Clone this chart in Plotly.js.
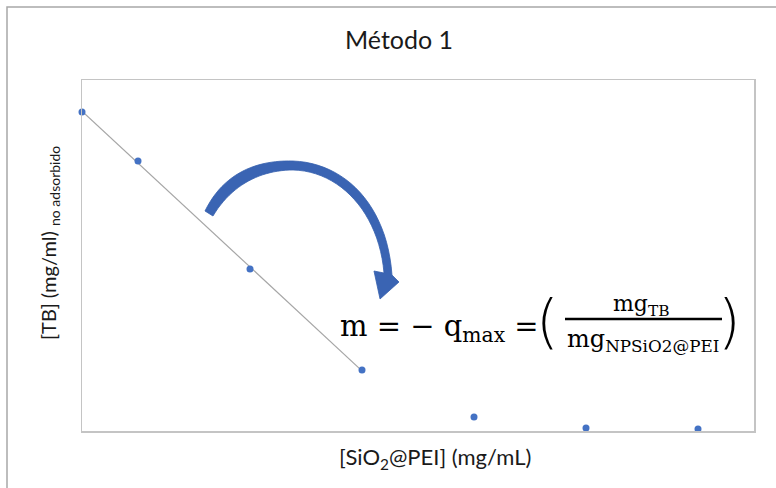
<!DOCTYPE html>
<html>
<head>
<meta charset="utf-8">
<script src="https://cdn.plot.ly/plotly-3.0.1.min.js"></script>
<style>html,body{margin:0;padding:0;background:#fff;}#chart{width:776px;height:488px;}</style>
</head>
<body>
<div id="chart"></div>
<script>
// Data (arbitrary units; the chart has no tick labels)
const sio2Conc = [0, 0.5, 1.5, 2.5, 3.5, 4.5, 5.5];
const tbNoAdsorbido = [3.181, 2.692, 1.615, 0.608, 0.140, 0.030, 0.020];
const fitCount = 4; // linear trend through the first four points

const chartTitle = 'Método 1';
const xTitle = '[SiO<sub>2</sub>@PEI] (mg/mL)';
const yTitle = '[TB] (mg/ml) <sub>no adsorbido</sub>';

// linear least-squares fit over the first points
const fx = sio2Conc.slice(0, fitCount), fy = tbNoAdsorbido.slice(0, fitCount);
const mx = fx.reduce((a, b) => a + b, 0) / fitCount;
const my = fy.reduce((a, b) => a + b, 0) / fitCount;
let sxy = 0, sxx = 0;
for (let i = 0; i < fitCount; i++) { sxy += (fx[i] - mx) * (fy[i] - my); sxx += (fx[i] - mx) ** 2; }
const slope = sxy / sxx, intercept = my - slope * mx;
const fitX = [fx[0], fx[fitCount - 1]];
const fitY = fitX.map(v => intercept + slope * v);

const W = 776, H = 488, ML = 82, MR = 22, MT = 80, MB = 57;
const PW = W - ML - MR, PH = H - MT - MB;
const px = x => (x - ML) / PW;
const py = y => (H - MB - y) / PH;
function path(pts) {
  return pts.map((p, i) => (i ? 'L' : 'M') + px(p[0]).toFixed(4) + ',' + py(p[1]).toFixed(4)).join(' ') + ' Z';
}
function bez(p0, p1, p2, p3, n) {
  const out = [];
  for (let i = 0; i <= n; i++) {
    const t = i / n, u = 1 - t;
    out.push([u*u*u*p0[0] + 3*u*u*t*p1[0] + 3*u*t*t*p2[0] + t*t*t*p3[0],
              u*u*u*p0[1] + 3*u*u*t*p1[1] + 3*u*t*t*p2[1] + t*t*t*p3[1]]);
  }
  return out;
}
// curved arrow outline (decoration, pixel geometry)
const outer = bez([205,211],[224,172],[258,160],[293,161],24).concat(bez([293,161],[345,163],[387,205],[392,275],24).slice(1));
const inner = bez([384,273],[379,213],[340,171],[293,170],24).concat(bez([293,170],[262,170],[232,184],[213,216],24).slice(1));
const arrowPts = outer.concat([[399,282],[380,299],[374,271]]).concat(inner);

const traces = [
  { x: fitX, y: fitY, mode: 'lines', line: { color: '#a6a6a6', width: 1.2 }, hoverinfo: 'skip', showlegend: false },
  { x: sio2Conc, y: tbNoAdsorbido, mode: 'markers', marker: { color: '#4472c4', size: 7 }, cliponaxis: false, showlegend: false }
];

const eqFont = { family: 'DejaVu Serif, Liberation Serif, serif', color: '#000' };
const parenFont = { family: 'DejaVu Sans, Liberation Serif, serif', color: '#000', weight: 200 };
const layout = {
  width: W, height: H,
  margin: { l: ML, r: MR, t: MT, b: MB },
  paper_bgcolor: '#fff', plot_bgcolor: '#fff',
  showlegend: false,
  xaxis: { range: [0, 6], showticklabels: false, ticks: '', showgrid: false, zeroline: false,
           showline: true, mirror: true, linecolor: '#c4c4c4', linewidth: 1.5 },
  yaxis: { range: [0, 3.5], showticklabels: false, ticks: '', showgrid: false, zeroline: false,
           showline: true, mirror: true, linecolor: '#c4c4c4', linewidth: 1.5 },
  shapes: [
    { type: 'rect', xref: 'paper', yref: 'paper', x0: px(7), x1: px(800), y0: py(520), y1: py(7),
      line: { color: '#a8a8a8', width: 1.5 }, fillcolor: 'rgba(0,0,0,0)', layer: 'below' },
    { type: 'path', xref: 'paper', yref: 'paper', path: path(arrowPts),
      fillcolor: '#3a64b3', line: { color: '#3560ad', width: 0.8 } },
    { type: 'line', xref: 'paper', yref: 'paper', x0: px(565), x1: px(722), y0: py(319), y1: py(319),
      line: { color: '#000', width: 2.4 } }
  ],
  annotations: [
    { text: chartTitle, xref: 'paper', yref: 'paper', x: px(399), y: py(39), xanchor: 'center', yanchor: 'middle',
      showarrow: false, font: { family: 'Lato, Open Sans, sans-serif', size: 25, color: '#1a1a1a' } },
    { text: xTitle, xref: 'paper', yref: 'paper', x: px(435), y: py(458), xanchor: 'center', yanchor: 'middle',
      showarrow: false, font: { family: 'Lato, Open Sans, sans-serif', size: 22, color: '#1a1a1a' } },
    { text: yTitle, xref: 'paper', yref: 'paper', x: px(49), y: py(243), xanchor: 'center', yanchor: 'middle',
      textangle: -90, showarrow: false, font: { family: 'Lato, Open Sans, sans-serif', size: 20, color: '#1a1a1a' } },
    { text: 'm = − q<sub>max</sub> =', xref: 'paper', yref: 'paper', x: px(541), y: py(328), xanchor: 'right', yanchor: 'middle',
      showarrow: false, font: Object.assign({ size: 29 }, eqFont) },
    { text: '(', xref: 'paper', yref: 'paper', x: px(547), y: py(322), xanchor: 'center', yanchor: 'middle',
      showarrow: false, font: Object.assign({ size: 58 }, parenFont) },
    { text: ')', xref: 'paper', yref: 'paper', x: px(729), y: py(322), xanchor: 'center', yanchor: 'middle',
      showarrow: false, font: Object.assign({ size: 58 }, parenFont) },
    { text: 'mg<sub>TB</sub>', xref: 'paper', yref: 'paper', x: px(641), y: py(305), xanchor: 'center', yanchor: 'middle',
      showarrow: false, font: Object.assign({ size: 22 }, eqFont) },
    { text: 'mg<sub>NPSiO2@PEI</sub>', xref: 'paper', yref: 'paper', x: px(643), y: py(340), xanchor: 'center', yanchor: 'middle',
      showarrow: false, font: Object.assign({ size: 24 }, eqFont) }
  ]
};

Plotly.newPlot('chart', traces, layout, { displayModeBar: false, staticPlot: true });
</script>
</body>
</html>
